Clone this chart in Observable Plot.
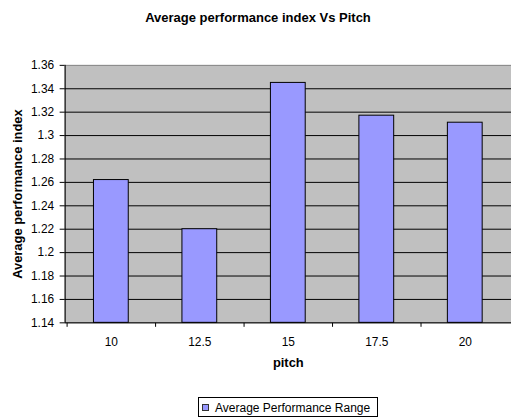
<!DOCTYPE html>
<html>
<head>
<meta charset="utf-8">
<script src="https://cdn.jsdelivr.net/npm/d3@7"></script>
<script src="https://cdn.jsdelivr.net/npm/@observablehq/plot@0.6"></script>
<style>
  html, body { margin: 0; padding: 0; background: #fff; }
  #wrap { position: relative; width: 511px; height: 419px; overflow: hidden; font-family: "Liberation Sans", Arial, sans-serif; }
  #title { position: absolute; left: 0; top: 10px; width: 516px; text-align: center; font-weight: bold; font-size: 13px; line-height: 16px; color: #000; }
  #chart { position: absolute; left: 0; top: 40px; }
  #legend { position: absolute; left: 198px; top: 397px; width: 180px; height: 20px; border: 1px solid #000; background: #fff; font-size: 12px; line-height: 14px; box-sizing: border-box; }
  #legend .sw { position: absolute; left: 3px; top: 6px; width: 5px; height: 5px; border: 1px solid #333; }
  #legend .lb { position: absolute; left: 16px; top: 3px; white-space: nowrap; }
</style>
</head>
<body>
<div id="wrap">
  <div id="title"></div>
  <div id="chart"></div>
  <div id="legend"></div>
</div>
<script>
const chartTitle = "Average performance index Vs Pitch";
const xTitle = "pitch";
const yTitle = "Average performance index";
const seriesName = "Average Performance Range";
const pitch = ["10", "12.5", "15", "17.5", "20"];
const perfIndex = [1.262, 1.22, 1.345, 1.317, 1.311];
const yTicks = [1.14, 1.16, 1.18, 1.2, 1.22, 1.24, 1.26, 1.28, 1.3, 1.32, 1.34, 1.36];

const barColor = "#9999ff";
const data = pitch.map((p, i) => ({pitch: p, value: perfIndex[i]}));

document.getElementById("title").textContent = chartTitle;

function axisLines(index, scales, values, dims) {
  const {x, y} = scales;
  const g = d3.create("svg:g").attr("stroke", "black").attr("stroke-width", 1);
  const x0 = dims.marginLeft + 0.5;
  const x1 = dims.width - dims.marginRight;
  const yb = Math.round(y(yTicks[0])) + 0.5;
  const yt = y(yTicks[yTicks.length - 1]);
  g.append("line").attr("x1", x0).attr("x2", x0).attr("y1", yt).attr("y2", yb);
  g.append("line").attr("x1", x0 - 0.5).attr("x2", x1).attr("y1", yb).attr("y2", yb);
  const gap = (x.step() - x.bandwidth()) / 2;
  for (const c of pitch) {
    const bx = Math.round(x(c) - gap) + 0.5;
    g.append("line").attr("x1", bx).attr("x2", bx).attr("y1", yb).attr("y2", yb + 4);
  }
  return g.node();
}

const chart = Plot.plot({
  width: 514,
  height: 350,
  marginTop: 25,
  marginBottom: 66,
  marginLeft: 65,
  marginRight: 0,
  style: {fontFamily: "'Liberation Sans', Arial, sans-serif", fontSize: "12px", color: "#000", background: "transparent"},
  x: {domain: pitch, paddingInner: 0.61, paddingOuter: 0.305, axis: null},
  y: {domain: [yTicks[0], yTicks[yTicks.length - 1]], axis: null},
  marks: [
    Plot.frame({fill: "#c0c0c0", stroke: "#808080"}),
    Plot.ruleY(yTicks.slice(1, -1), {stroke: "black", strokeWidth: 1}),
    Plot.barY(data, {x: "pitch", y1: yTicks[0], y2: "value", fill: barColor, stroke: "black", strokeWidth: 1}),
    Plot.axisY({ticks: yTicks, tickSize: 5, tickPadding: 6, tickFormat: d => String(+d.toFixed(2)), label: null, fontSize: 12, stroke: "black"}),
    Plot.axisX({tickSize: 0, tickPadding: 15, label: null, fontSize: 12}),
    axisLines,
    Plot.text([xTitle], {frameAnchor: "bottom", dy: 44, fontWeight: "bold", fontSize: 13}),
    Plot.text([yTitle], {frameAnchor: "left", textAnchor: "middle", dx: -48, rotate: -90, fontWeight: "bold", fontSize: 13})
  ]
});
document.getElementById("chart").appendChild(chart);

const legend = document.getElementById("legend");
const sw = document.createElement("div");
sw.className = "sw";
sw.style.background = barColor;
const lb = document.createElement("div");
lb.className = "lb";
lb.textContent = seriesName;
legend.appendChild(sw);
legend.appendChild(lb);
</script>
</body>
</html>
